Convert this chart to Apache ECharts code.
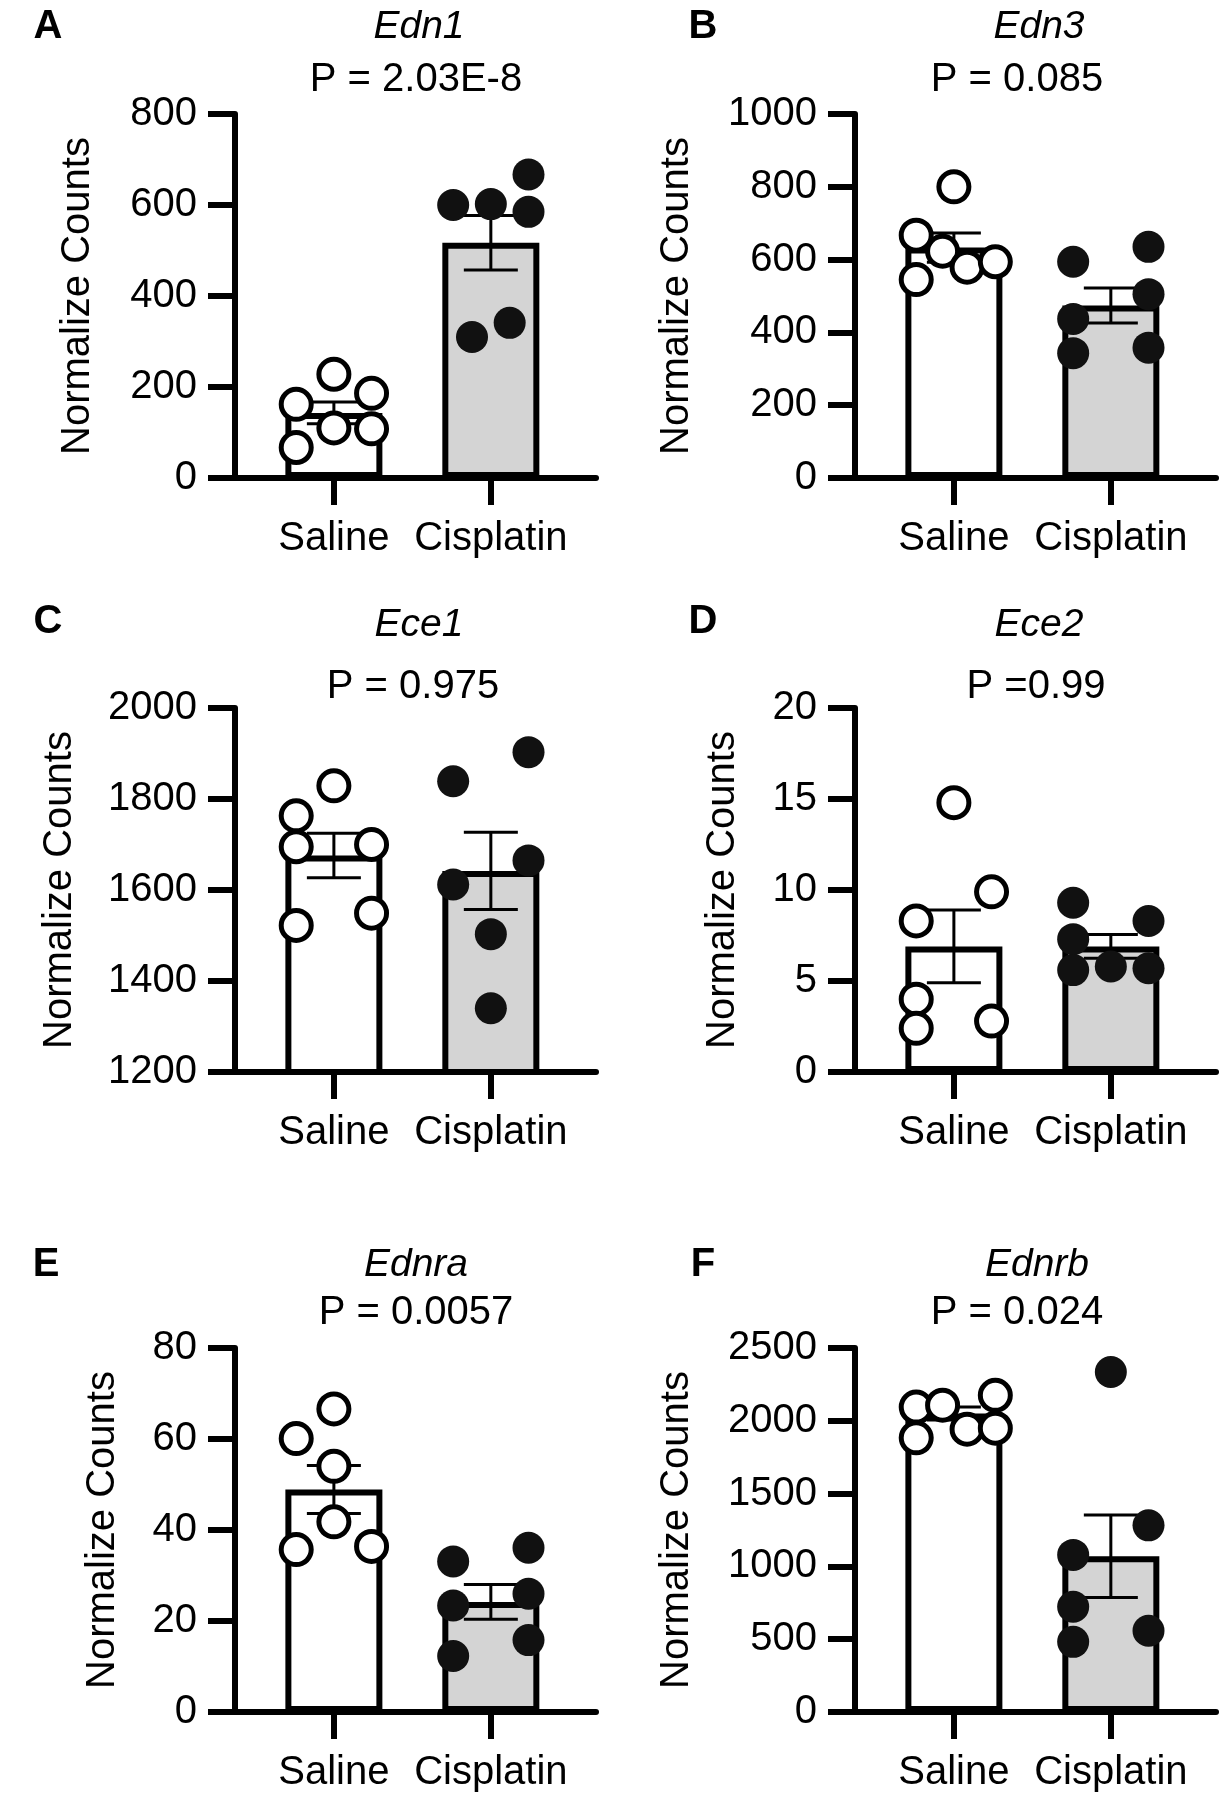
<!DOCTYPE html>
<html><head><meta charset="utf-8">
<script src="https://cdn.jsdelivr.net/npm/echarts@6/dist/echarts.min.js"></script>
<style>html,body{margin:0;padding:0;background:#fff}#c{width:1224px;height:1800px}</style>
</head><body><div id="c"></div>
<script>
// ---------------- DATA ----------------
const categories = ['Saline', 'Cisplatin'];
const panelLetters = ['A', 'B', 'C', 'D', 'E', 'F'];
const genes = ['Edn1', 'Edn3', 'Ece1', 'Ece2', 'Ednra', 'Ednrb'];
const pLabels = ['P = 2.03E-8', 'P = 0.085', 'P = 0.975', 'P =0.99', 'P = 0.0057', 'P = 0.024'];
const yTitle = 'Normalize Counts';

const yMin = [0, 0, 1200, 0, 0, 0];
const yMax = [800, 1000, 2000, 20, 80, 2500];
const yInterval = [200, 200, 200, 5, 20, 500];

const edn1Saline = [228, 162, 186, 67, 110, 108];
const edn1Cisplatin = [600, 602, 667, 585, 310, 341];
const edn1Mean = [143, 517];
const edn1Sem = [24, 60];

const edn3Saline = [800, 667, 623, 545, 579, 594];
const edn3Cisplatin = [594, 635, 505, 437, 343, 358];
const edn3Mean = [633, 474];
const edn3Sem = [40, 48];

const ece1Saline = [1829, 1763, 1695, 1700, 1522, 1549];
const ece1Cisplatin = [1839, 1903, 1665, 1612, 1503, 1340];
const ece1Mean = [1676, 1642];
const ece1Sem = [49, 85];

const ece2Saline = [14.8, 9.9, 8.3, 4.0, 2.4, 2.8];
const ece2Cisplatin = [9.3, 8.3, 7.3, 5.6, 5.8, 5.7];
const ece2Mean = [6.9, 6.9];
const ece2Sem = [2.0, 0.65];

const ednraSaline = [66.6, 60.1, 54.0, 41.8, 35.7, 36.4];
const ednraCisplatin = [33.1, 36.1, 26.0, 23.4, 15.8, 12.3];
const ednraMean = [48.9, 24.2];
const ednraSem = [5.3, 3.8];

const ednrbSaline = [2094, 2107, 2175, 1883, 1942, 1949];
const ednrbCisplatin = [2335, 1282, 1079, 723, 482, 558];
const ednrbMean = [2050, 1070];
const ednrbSem = [45, 283];

// ---------------- LAYOUT (positions / styles only) ----------------
const salineOffsets = [
  [0, -1, 1, -1, 0, 1],
  [0, -1, -0.3, -1, 0.35, 1.1],
  [0, -1, -1, 1, -1, 1],
  [0, 1, -1, -1, -1, 1],
  [0, -1, 0, 0, -1, 1],
  [-1, -0.3, 1.1, -1, 0.35, 1.1]
];
const cisplatinOffsets = [
  [-1, 0, 1, 1, -0.5, 0.5],
  [-1, 1, 1, -1, -1, 1],
  [-1, 1, 1, -1, 0, 0],
  [-1, 1, -1, -1, 0, 1],
  [-1, 1, 1, -1, 1, -1],
  [0, 1, -1, -1, -1, 1]
];
const spread = 0.24;
const colLeft = [235, 855];
const gridWidth = 361;
const rowTop = [114, 708, 1348];
const gridHeight = 364;
const nameGaps = [137, 158, 155, 112, 112, 158];
const letterPos = [[48, 27], [703, 27], [48, 622], [703, 622], [46, 1265], [703, 1265]];
const genePos = [[419, 27], [1039, 27], [419, 625], [1039, 625], [416, 1265], [1037, 1265]];
const pPos = [[416, 80], [1017, 80], [413, 687], [1036, 687], [416, 1313], [1017, 1313]];

const FONT = '"Liberation Sans", Arial, sans-serif';
const salineSets = [edn1Saline, edn3Saline, ece1Saline, ece2Saline, ednraSaline, ednrbSaline];
const cisSets = [edn1Cisplatin, edn3Cisplatin, ece1Cisplatin, ece2Cisplatin, ednraCisplatin, ednrbCisplatin];
const means = [edn1Mean, edn3Mean, ece1Mean, ece2Mean, ednraMean, ednrbMean];
const sems = [edn1Sem, edn3Sem, ece1Sem, ece2Sem, ednraSem, ednrbSem];

const grids = [], xAxes = [], yAxes = [], series = [], graphics = [];
for (let i = 0; i < 6; i++) {
  const col = i % 2, row = Math.floor(i / 2);
  grids.push({left: colLeft[col], top: rowTop[row], width: gridWidth, height: gridHeight});
  xAxes.push({
    type: 'value', gridIndex: i, min: 0.37, max: 2.67,
    axisLine: {show: true, onZero: false, lineStyle: {color: '#000', width: 6}},
    axisTick: {show: true, customValues: [1, 2], length: 27, lineStyle: {color: '#000', width: 6}},
    axisLabel: {show: true, customValues: [1, 2], formatter: v => categories[Math.round(v) - 1],
      fontSize: 40, color: '#000', fontFamily: FONT, margin: 41},
    splitLine: {show: false}
  });
  yAxes.push({
    type: 'value', gridIndex: i, min: yMin[i], max: yMax[i], interval: yInterval[i],
    axisLine: {show: true, onZero: false, lineStyle: {color: '#000', width: 6}},
    axisTick: {show: true, length: 27, lineStyle: {color: '#000', width: 6}},
    axisLabel: {fontSize: 40, color: '#000', fontFamily: FONT, margin: 38, formatter: v => String(v)},
    splitLine: {show: false},
    name: yTitle, nameLocation: 'middle', nameGap: nameGaps[i],
    nameTextStyle: {fontSize: 40, color: '#000', fontFamily: FONT}
  });
  series.push({
    type: 'bar', xAxisIndex: i, yAxisIndex: i, barWidth: 97, z: 2,
    itemStyle: {borderColor: '#000', borderWidth: 6},
    data: [
      {value: [1, means[i][0]], itemStyle: {color: '#ffffff'}},
      {value: [2, means[i][1]], itemStyle: {color: '#d4d4d4'}}
    ]
  });
  series.push({
    type: 'custom', xAxisIndex: i, yAxisIndex: i, z: 3,
    data: [[1, means[i][0], sems[i][0]], [2, means[i][1], sems[i][1]]],
    renderItem: (params, api) => {
      const x = api.value(0), m = api.value(1), s = api.value(2);
      const top = api.coord([x, m + s]), bot = api.coord([x, m - s]);
      const half = 27;
      const st = {stroke: '#000', lineWidth: 3};
      return {type: 'group', children: [
        {type: 'line', shape: {x1: top[0], y1: top[1], x2: bot[0], y2: bot[1]}, style: st},
        {type: 'line', shape: {x1: top[0] - half, y1: top[1], x2: top[0] + half, y2: top[1]}, style: st},
        {type: 'line', shape: {x1: bot[0] - half, y1: bot[1], x2: bot[0] + half, y2: bot[1]}, style: st}
      ]};
    }
  });
  series.push({
    type: 'scatter', xAxisIndex: i, yAxisIndex: i, z: 4, symbol: 'circle', symbolSize: 30,
    itemStyle: {color: '#ffffff', borderColor: '#000', borderWidth: 5, opacity: 1},
    data: salineSets[i].map((v, k) => [1 + salineOffsets[i][k] * spread, v])
  });
  series.push({
    type: 'scatter', xAxisIndex: i, yAxisIndex: i, z: 4, symbol: 'circle', symbolSize: 32,
    itemStyle: {color: '#111111', opacity: 1},
    data: cisSets[i].map((v, k) => [2 + cisplatinOffsets[i][k] * spread, v])
  });
  graphics.push({type: 'text', x: letterPos[i][0], y: letterPos[i][1],
    style: {text: panelLetters[i], font: 'bold 40px ' + FONT, fill: '#000', align: 'center', verticalAlign: 'middle'}});
  graphics.push({type: 'text', x: genePos[i][0], y: genePos[i][1],
    style: {text: genes[i], font: 'italic 39px ' + FONT, fill: '#000', align: 'center', verticalAlign: 'middle'}});
  graphics.push({type: 'text', x: pPos[i][0], y: pPos[i][1],
    style: {text: pLabels[i], font: '40px ' + FONT, fill: '#000', align: 'center', verticalAlign: 'middle'}});
}

const chart = echarts.init(document.getElementById('c'), null, {renderer: 'canvas'});
chart.setOption({
  animation: false,
  backgroundColor: '#ffffff',
  grid: grids, xAxis: xAxes, yAxis: yAxes, series: series, graphic: graphics
});
</script></body></html>
